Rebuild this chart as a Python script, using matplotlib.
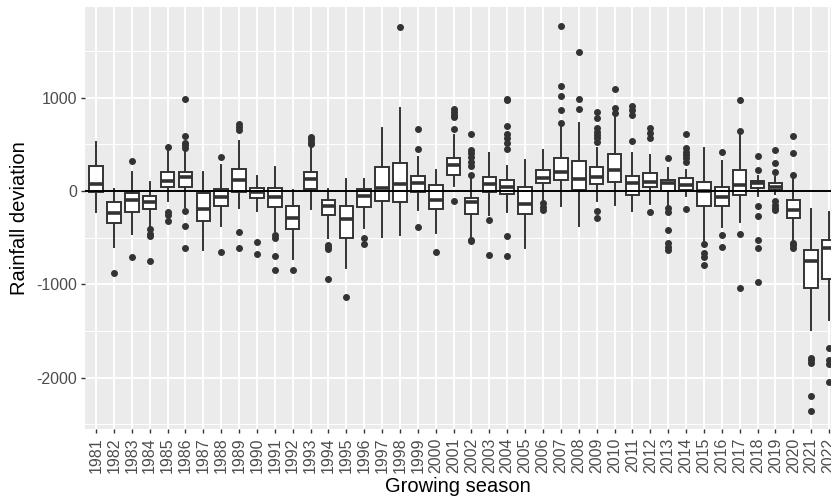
import matplotlib
matplotlib.use("Agg")
import matplotlib.pyplot as plt
from matplotlib.ticker import FixedLocator

plt.rcParams['font.family'] = ['Liberation Sans', 'DejaVu Sans']
plt.rcParams['axes.unicode_minus'] = False

years = list(range(1981, 2023))

whishi = [530, 18, 200, 97, 440, 458, 200, 275, 533, 165, 258, 14, 476, 25,
          125, 132, 673, 887, 361, 225, 598, 150, 404, 268, 329, 437, 698, 726,
          458, 791, 411, 386, 250, 225, 457, 325, 600, 160, 150, 136, -193, -225]
q3 = [268, -118, -25, -50, 208, 208, -25, 25, 240, 36, 29, -165, 208, -93,
      -161, 25, 261, 297, 157, 61, 354, -79, 154, 114, 39, 225, 358, 318,
      258, 394, 165, 193, 121, 143, 93, 38, 225, 111, 82, -100, -630, -530]
med = [72, -233, -100, -118, 107, 150, -197, -61, 115, -7, -61, -286, 129, -161,
       -297, -57, 29, 75, 82, -97, 277, -114, 72, 45, -140, 136, 204, 125,
       154, 225, 82, 97, 85, 60, 5, -61, 60, 85, 46, -208, -755, -615]
q1 = [-7, -340, -225, -193, 47, 39, -318, -161, -11, -75, -168, -408, 25, -261,
      -501, -175, -104, -122, -11, -197, 170, -247, -14, -36, -247, 82, 118, 11,
      75, 97, -43, 43, 0, 15, -161, -160, -40, 29, 11, -286, -1034, -941]
whislo = [-222, -605, -458, -383, -107, -168, -633, -372, -179, -215, -429, -733, -190, -508,
          -823, -394, -497, -472, -204, -451, 54, -489, -255, -227, -608, -97, -161, -379,
          -104, -147, -218, -140, -150, -57, -543, -386, -335, -54, -32, -526, -1485, -1378]
fliers = [
    [],
    [-877],
    [322, -712],
    [-404, -465, -487, -755],
    [469, -225, -261, -322],
    [988, 594, 519, 497, 465, -218, -372, -615],
    [],
    [361, -658],
    [719, 690, 655, -444, -612],
    [-544, -676],
    [-469, -505, -701, -841],
    [-844],
    [583, 555, 530, 505],
    [-580, -605, -626, -941],
    [-1134],
    [-508, -569],
    [],
    [1753],
    [662, 451, -383],
    [-658],
    [884, 850, 816, 791, 669, -107],
    [607, 439, 404, 361, 315, 271, 175, -520, -540],
    [-314, -686],
    [991, 975, 700, 607, 564, 511, 447, -479, -700],
    [],
    [-132, -175, -200],
    [1768, 1127, 1023, 866, 726],
    [1488, 991, 877],
    [852, 780, 673, 637, 601, 565, 530, -211, -286],
    [1088, 887, 841],
    [912, 869, 812, 537],
    [680, 619, 572, -225],
    [350, -186, -221, -418, -561, -597, -632],
    [607, 457, 422, 386, 350, 315, -190],
    [-571, -668, -704, -793],
    [414, -475, -596],
    [973, 643, -461, -1036],
    [379, 225, -161, -265, -525, -608, -978],
    [439, 303, 207, -107, -150, -186, -204],
    [587, 411, 168, -562, -583, -612],
    [-1789, -1814, -1843, -2193, -2358],
    [-1682, -1814, -1850, -2047],
]

y_major = [-2000, -1000, 0, 1000]
y_minor = [-2500, -1500, -500, 500, 1500]

W, H = 831, 499
fig = plt.figure(figsize=(W / 100, H / 100), dpi=100)
left_px, right_px = 85.3, 839.8
bottom_px, top_px = 69.7, 492.3
ax = fig.add_axes([left_px / W, bottom_px / H, (right_px - left_px) / W, (top_px - bottom_px) / H])
ax.set_facecolor('#EBEBEB')
for s in ax.spines.values():
    s.set_visible(False)

stats = []
for i, y in enumerate(years):
    stats.append(dict(label=str(y), med=med[i], q1=q1[i], q3=q3[i],
                      whislo=whislo[i], whishi=whishi[i], fliers=fliers[i]))

positions = list(range(1, len(years) + 1))
dark = '#333333'
ax.bxp(stats, positions=positions, widths=0.76, patch_artist=True, showcaps=False,
       boxprops=dict(facecolor='white', edgecolor=dark, linewidth=1.4),
       medianprops=dict(color=dark, linewidth=2.6, solid_capstyle='butt'),
       whiskerprops=dict(color=dark, linewidth=1.4),
       flierprops=dict(marker='o', markerfacecolor=dark, markeredgecolor=dark,
                       markersize=4.0, linestyle='none'),
       zorder=3)

ax.axhline(0, color='black', linewidth=1.4, zorder=4)

ax.set_xlim(0.4, len(years) + 0.6)
ax.set_ylim(-2553, 1975)

ax.yaxis.set_major_locator(FixedLocator(y_major))
ax.yaxis.set_minor_locator(FixedLocator(y_minor))
ax.set_yticklabels([str(v) for v in y_major])
ax.set_xticks(positions)
ax.set_xticklabels([str(y) for y in years], rotation=90)

ax.set_axisbelow(True)
ax.grid(which='major', color='white', linewidth=1.4)
ax.grid(which='minor', axis='y', color='white', linewidth=0.7)
ax.tick_params(which='major', length=2.9, width=1.0, color='#333333',
               labelcolor='#4D4D4D', labelsize=11.5, pad=3.0)
ax.tick_params(which='minor', length=0)

fig.text(20 / W, 1 - 218 / H, 'Rainfall deviation', rotation=90, ha='center', va='center',
         fontsize=14.5, color='black')
fig.text((85.3 + 831) / 2 / W, 1 - 486.7 / H, 'Growing season', ha='center', va='center',
         fontsize=14.5, color='black')

fig.savefig('out.png', dpi=100)
